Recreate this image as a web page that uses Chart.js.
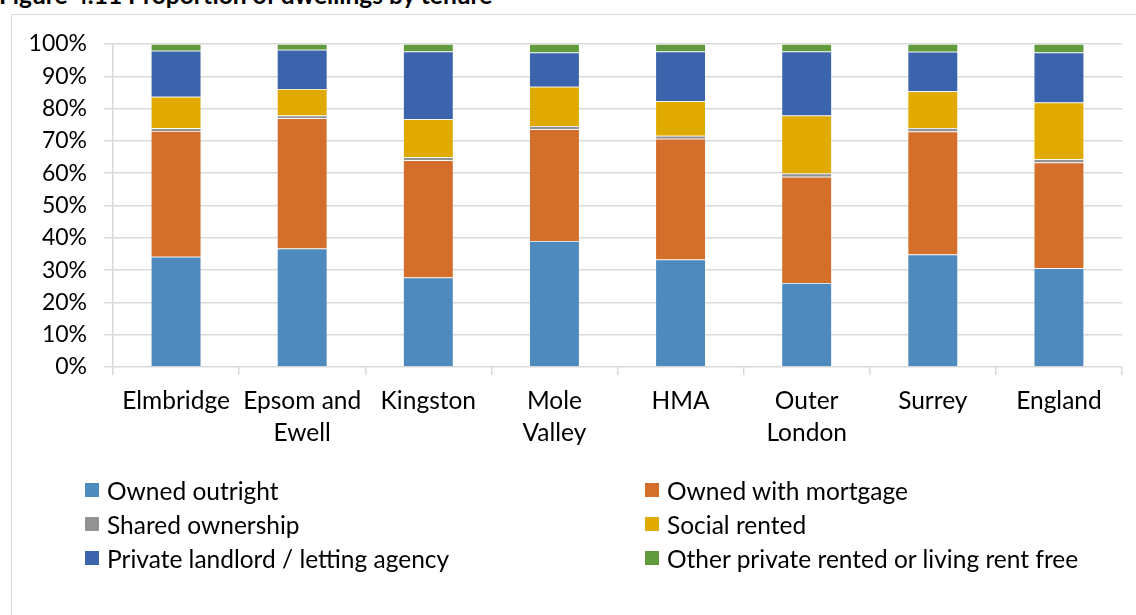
<!DOCTYPE html>
<html>
<head>
<meta charset="utf-8">
<script src="https://cdn.jsdelivr.net/npm/chart.js@4"></script>
<style>
  html, body { margin:0; padding:0; background:#fff; overflow:hidden; }
  #wrap { position:relative; width:1136px; height:615px; }
  #frame { position:absolute; left:11px; top:14px; width:1140px; height:620px; border:1px solid #d9d9d9; box-sizing:border-box; }
  #title { position:absolute; left:-1px; top:-18px; font:bold 24.5px Lato, "Open Sans", sans-serif; color:#000; white-space:nowrap; line-height:25px; }
  canvas { position:absolute; left:0; top:0; }
  #legend { position:absolute; left:85px; top:473px; width:1050px; display:grid; grid-template-columns:560px 490px; row-gap:0; font:24.5px Lato, "Open Sans", sans-serif; color:#000; }
  .li { display:flex; align-items:center; height:34px; white-space:nowrap; }
  .sw { width:14px; height:14px; margin-right:8px; flex:none; }
</style>
</head>
<body>
<div id="wrap">
  <div id="title">Figure 4.11 Proportion of dwellings by tenure</div>
  <div id="frame"></div>
  <canvas id="c" width="1136" height="615"></canvas>
  <div id="legend"></div>
</div>
<script>
const categories = [["Elmbridge"], ["Epsom and", "Ewell"], ["Kingston"], ["Mole", "Valley"], ["HMA"], ["Outer", "London"], ["Surrey"], ["England"]];
const yTicks = [0, 10, 20, 30, 40, 50, 60, 70, 80, 90, 100];
const ownedOutright    = [34.1, 36.7, 27.7, 39.0, 33.3, 26.0, 34.8, 30.6];
const ownedMortgage    = [39.0, 40.3, 36.3, 34.6, 37.4, 32.9, 38.1, 32.7];
const sharedOwnership  = [0.8, 0.9, 0.9, 1.0, 0.9, 1.0, 1.1, 1.0];
const socialRented     = [9.8, 8.2, 11.8, 12.2, 10.7, 18.0, 11.4, 17.6];
const privateLandlord  = [14.2, 12.1, 21.0, 10.6, 15.4, 19.8, 12.2, 15.5];
const otherPrivate     = [2.1, 1.8, 2.3, 2.6, 2.3, 2.3, 2.4, 2.6];
const seriesNames = ["Owned outright", "Owned with mortgage", "Shared ownership", "Social rented", "Private landlord / letting agency", "Other private rented or living rent free"];
const seriesColors = ["#4f8abe", "#d36e2b", "#929292", "#e0aa00", "#3c64ac", "#629a3e"];
const seriesData = [ownedOutright, ownedMortgage, sharedOwnership, socialRented, privateLandlord, otherPrivate];

const FONT = 'Lato, "Open Sans", sans-serif';
const chart = new Chart(document.getElementById('c'), {
  type: 'bar',
  data: {
    labels: categories,
    datasets: seriesNames.map((n, i) => ({
      label: n,
      data: seriesData[i],
      backgroundColor: seriesColors[i],
      borderColor: 'rgba(255,255,255,0.35)',
      borderWidth: 0.75,
      barPercentage: 0.4,
      categoryPercentage: 1.0
    }))
  },
  options: {
    responsive: false,
    animation: false,
    layout: { padding: { top: 44, right: 14, left: 0, bottom: 0 } },
    plugins: { legend: { display: false }, tooltip: { enabled: false }, title: { display: false } },
    scales: {
      x: {
        stacked: true,
        offset: true,
        grid: { display: true, offset: true, drawOnChartArea: false, drawTicks: true, tickLength: 8, color: '#d9d9d9', lineWidth: 1.5 },
        border: { display: false },
        ticks: { color: '#000', font: { family: FONT, size: 24.5, lineHeight: 1.3 }, padding: 10, maxRotation: 0, autoSkip: false },
        afterFit: s => { s.height = 248; }
      },
      y: {
        stacked: true,
        min: 0, max: 100,
        afterBuildTicks: s => { s.ticks = yTicks.map(v => ({ value: v })); },
        grid: { color: '#d9d9d9', lineWidth: 1.5, tickLength: 9 },
        border: { display: true, color: '#d9d9d9', width: 1.5 },
        ticks: { color: '#000', font: { family: FONT, size: 23 }, padding: 17, callback: v => v + '%' },
        afterFit: s => { s.width = 113; s.paddingTop = 0; s.paddingBottom = 0; }
      }
    }
  }
});

const leg = document.getElementById('legend');
chart.data.datasets.forEach(ds => {
  const d = document.createElement('div');
  d.className = 'li';
  const sw = document.createElement('span');
  sw.className = 'sw';
  sw.style.background = ds.backgroundColor;
  const t = document.createElement('span');
  t.textContent = ds.label;
  d.appendChild(sw); d.appendChild(t);
  leg.appendChild(d);
});
</script>
</body>
</html>
